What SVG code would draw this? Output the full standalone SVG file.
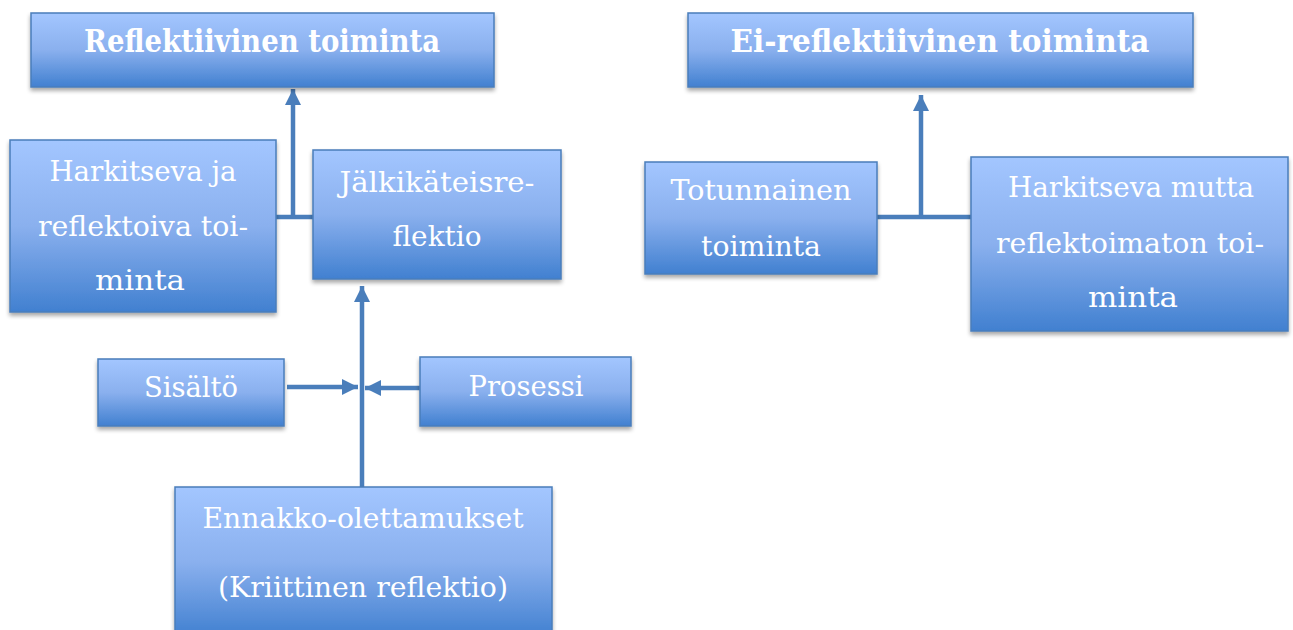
<svg xmlns="http://www.w3.org/2000/svg" width="1293" height="630" viewBox="0 0 1293 630">
<style>
.box{fill:url(#g);stroke:#4a7ebb;stroke-width:1.5;filter:url(#sh)}
.t{font-family:"DejaVu Serif","Liberation Serif",serif;font-size:28px;fill:#fff;text-anchor:middle}
.b{font-weight:bold;font-size:31px}
.c{stroke:#4a7ebb;stroke-width:4.5;fill:none}
</style>
<defs>
<linearGradient id="g" x1="0" y1="0" x2="0" y2="1">
<stop offset="0" stop-color="#a3c6ff"/>
<stop offset="0.5" stop-color="#8ab0ee"/>
<stop offset="1" stop-color="#4180d0"/>
</linearGradient>
<filter id="sh" x="-5%" y="-5%" width="110%" height="120%">
<feGaussianBlur in="SourceAlpha" stdDeviation="2"/>
<feOffset dx="0" dy="3" result="o"/>
<feComponentTransfer><feFuncA type="linear" slope="0.35"/></feComponentTransfer>
<feMerge><feMergeNode/><feMergeNode in="SourceGraphic"/></feMerge>
</filter>
<marker id="ah" markerUnits="userSpaceOnUse" markerWidth="18" markerHeight="18" refX="16" refY="8" orient="auto">
<path d="M0,0 L16,8 L0,16 Z" fill="#4a7ebb"/>
</marker>
</defs>
<g id="connectors">
<path class="c" d="M276,217 H313"/>
<path class="c" d="M293,217 V89" marker-end="url(#ah)"/>
<path class="c" d="M362,487 V286" marker-end="url(#ah)"/>
<path class="c" d="M287,387 H358" marker-end="url(#ah)"/>
<path class="c" d="M420,388 H365" marker-end="url(#ah)"/>
<path class="c" d="M877,217 H971"/>
<path class="c" d="M921,217 V95" marker-end="url(#ah)"/>
</g>
<g id="n1"><rect class="box" x="31" y="13" width="463" height="74"/><text class="t b" x="262" y="52" textLength="356" lengthAdjust="spacingAndGlyphs">Reflektiivinen toiminta</text></g>
<g id="n2"><rect class="box" x="688" y="13" width="505" height="74"/><text class="t b" x="940" y="52" textLength="419" lengthAdjust="spacingAndGlyphs">Ei-reflektiivinen toiminta</text></g>
<g id="n3"><rect class="box" x="10" y="140" width="266" height="172"/>
<text class="t" x="143" y="181" textLength="187" lengthAdjust="spacingAndGlyphs">Harkitseva ja</text>
<text class="t" x="143" y="236" textLength="210" lengthAdjust="spacingAndGlyphs">reflektoiva toi-</text>
<text class="t" x="140" y="290" textLength="90" lengthAdjust="spacingAndGlyphs">minta</text></g>
<g id="n4"><rect class="box" x="313" y="150" width="248" height="129"/>
<text class="t" x="437" y="192" textLength="195" lengthAdjust="spacingAndGlyphs">Jälkikäteisre-</text>
<text class="t" x="437" y="246" textLength="89" lengthAdjust="spacingAndGlyphs">flektio</text></g>
<g id="n5"><rect class="box" x="645" y="162" width="232" height="112"/>
<text class="t" x="761" y="200" textLength="181" lengthAdjust="spacingAndGlyphs">Totunnainen</text>
<text class="t" x="761" y="256" textLength="120" lengthAdjust="spacingAndGlyphs">toiminta</text></g>
<g id="n6"><rect class="box" x="971" y="157" width="317" height="174"/>
<text class="t" x="1131" y="197" textLength="246" lengthAdjust="spacingAndGlyphs">Harkitseva mutta</text>
<text class="t" x="1130" y="253" textLength="268" lengthAdjust="spacingAndGlyphs">reflektoimaton toi-</text>
<text class="t" x="1133" y="307" textLength="90" lengthAdjust="spacingAndGlyphs">minta</text></g>
<g id="n7"><rect class="box" x="98" y="359" width="186" height="67"/>
<text class="t" x="191" y="397" textLength="94" lengthAdjust="spacingAndGlyphs">Sisältö</text></g>
<g id="n8"><rect class="box" x="420" y="357" width="211" height="69"/>
<text class="t" x="526" y="396" textLength="115" lengthAdjust="spacingAndGlyphs">Prosessi</text></g>
<g id="n9"><rect class="box" x="175" y="487" width="377" height="150"/>
<text class="t" x="363" y="528" textLength="321" lengthAdjust="spacingAndGlyphs">Ennakko-olettamukset</text>
<text class="t" x="363" y="597" textLength="290" lengthAdjust="spacingAndGlyphs">(Kriittinen reflektio)</text></g>
</svg>
